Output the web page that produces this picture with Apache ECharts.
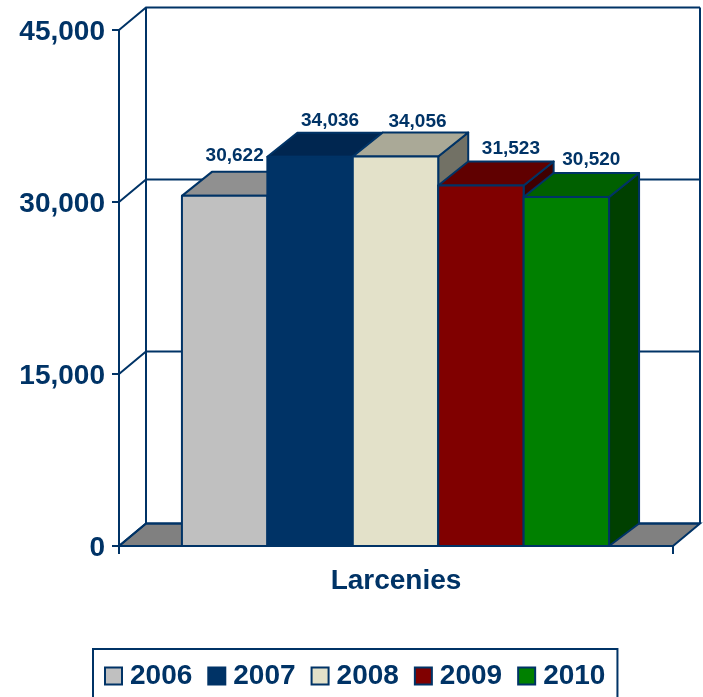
<!DOCTYPE html>
<html lang="en">
<head>
    <meta charset="UTF-8">
    <title>Larcenies</title>
    <script src="https://cdn.jsdelivr.net/npm/echarts@6/dist/echarts.min.js"></script>
    <style>
        *{
            margin: 0;
            padding: 0;
        }
        body{
            background-color: #fff;
            overflow: hidden;
        }
        #main{
            width: 703px;
            height: 697px;
        }
    </style>
</head>
<body>
<div id="main"></div>
<script>
    var categories = ['Larcenies'];
    var years = ['2006','2007','2008','2009','2010'];
    var values = [30622,34036,34056,31523,30520];
    var yTicks = [0,15000,30000,45000];

    // front, top and side face of every bar
    var frontColors = ['#C0C0C0','#003366','#E3E1C9','#800000','#008000'];
    var topColors = ['#909090','#002650','#AAA997','#600000','#006000'];
    var sideColors = ['#606060','#001A33','#727165','#400000','#004000'];
    // where each value label sits, relative to the middle of the bar's top front edge
    var labelNudge = [[10,-40],[20,-36],[22,-35],[30,-37],[25,-37]];

    var navy = '#003366';
    var fontName = '"Liberation Sans", Arial, sans-serif';
    var wallDx = 27, wallDy = 22.5;
    var barDx = 30, barDy = 24;
    var barShare = 0.771;

    function line(points) {
        return {
            type: 'polyline',
            shape: {points: points},
            style: {fill: null, stroke: navy, lineWidth: 2}
        };
    }

    function renderWalls(params, api) {
        var left = params.coordSys.x;
        var right = left + params.coordSys.width;
        var children = [];
        var base = api.coord([0, 0])[1];
        var top = api.coord([0, yTicks[yTicks.length - 1]])[1];
        children.push({
            type: 'polygon',
            shape: {points: [[left, base], [left + wallDx, base - wallDy], [right + wallDx, base - wallDy], [right, base]]},
            style: {fill: '#808080', stroke: navy, lineWidth: 2}
        });
        for (var i = 0; i < yTicks.length; i++) {
            var y = api.coord([0, yTicks[i]])[1];
            children.push(line([[left, y], [left + wallDx, y - wallDy], [right + wallDx, y - wallDy]]));
        }
        children.push(line([[left + wallDx, base - wallDy], [left + wallDx, top - wallDy]]));
        children.push(line([[right + wallDx, base - wallDy], [right + wallDx, top - wallDy]]));
        return {type: 'group', children: children};
    }

    function makeBar(index) {
        return function (params, api) {
            var band = api.size([1, 0])[0];
            var w = band * barShare / years.length;
            var center = api.coord([api.value(0), 0])[0] - 0.5;
            var x0 = center + (index - years.length / 2) * w;
            var x1 = x0 + w;
            var yBase = api.coord([0, 0])[1];
            var yTop = api.coord([0, api.value(1)])[1] + 1;
            var edge = {stroke: navy, lineWidth: 2, lineJoin: 'round'};
            return {
                type: 'group',
                children: [
                    {
                        type: 'polygon',
                        shape: {points: [[x1, yBase], [x1 + barDx, yBase - wallDy], [x1 + barDx, yTop - barDy], [x1, yTop]]},
                        style: Object.assign({fill: sideColors[index]}, edge)
                    },
                    {
                        type: 'polygon',
                        shape: {points: [[x0, yTop], [x0 + barDx, yTop - barDy], [x1 + barDx, yTop - barDy], [x1, yTop]]},
                        style: Object.assign({fill: topColors[index]}, edge)
                    },
                    {
                        type: 'rect',
                        shape: {x: x0, y: yTop, width: w, height: yBase - yTop},
                        style: Object.assign({fill: frontColors[index]}, edge)
                    },
                    {
                        type: 'text',
                        z2: 50,
                        style: {
                            text: api.value(1).toLocaleString('en-US'),
                            x: (x0 + x1) / 2 + labelNudge[index][0],
                            y: yTop + labelNudge[index][1],
                            align: 'center',
                            verticalAlign: 'middle',
                            fill: navy,
                            font: 'bold 19px ' + fontName
                        }
                    }
                ]
            };
        };
    }

    var series = [{
        name: 'walls',
        type: 'custom',
        silent: true,
        z: 1,
        renderItem: renderWalls,
        data: [[0, 0]]
    }];
    for (var i = 0; i < years.length; i++) {
        series.push({
            name: years[i],
            type: 'custom',
            z: 2 + i,
            itemStyle: {color: frontColors[i]},
            renderItem: makeBar(i),
            data: [[0, values[i]]]
        });
    }

    var myChart = echarts.init(document.getElementById('main'));
    myChart.setOption({
        animation: false,
        backgroundColor: '#fff',
        grid: {left: 119, right: 30, top: 30, bottom: 151},
        legend: {
            data: years,
            left: 93,
            top: 649,
            padding: [13, 12, 8, 11],
            borderColor: navy,
            borderWidth: 2,
            itemWidth: 17,
            itemHeight: 17,
            itemGap: 15,
            icon: 'rect',
            itemStyle: {borderColor: navy, borderWidth: 2},
            textStyle: {color: navy, fontFamily: fontName, fontWeight: 'bold', fontSize: 28, padding: [2, 0, 0, 3]}
        },
        xAxis: {
            type: 'category',
            data: categories,
            axisLine: {lineStyle: {color: navy, width: 2}},
            axisTick: {show: true, length: 8, lineStyle: {color: navy, width: 2}},
            axisLabel: {color: navy, fontFamily: fontName, fontWeight: 'bold', fontSize: 28, margin: 21}
        },
        yAxis: {
            type: 'value',
            min: 0,
            max: 45000,
            interval: 15000,
            splitLine: {show: false},
            axisLine: {show: true, lineStyle: {color: navy, width: 2}},
            axisTick: {show: true, length: 7, lineStyle: {color: navy, width: 2}},
            axisLabel: {
                margin: 14,
                formatter: function (v) {
                    return '{t|' + v.toLocaleString('en-US') + '}';
                },
                rich: {
                    t: {color: navy, fontFamily: fontName, fontWeight: 'bold', fontSize: 28, padding: [4, 0, 0, 0]}
                }
            }
        },
        series: series
    });
</script>
</body>
</html>
